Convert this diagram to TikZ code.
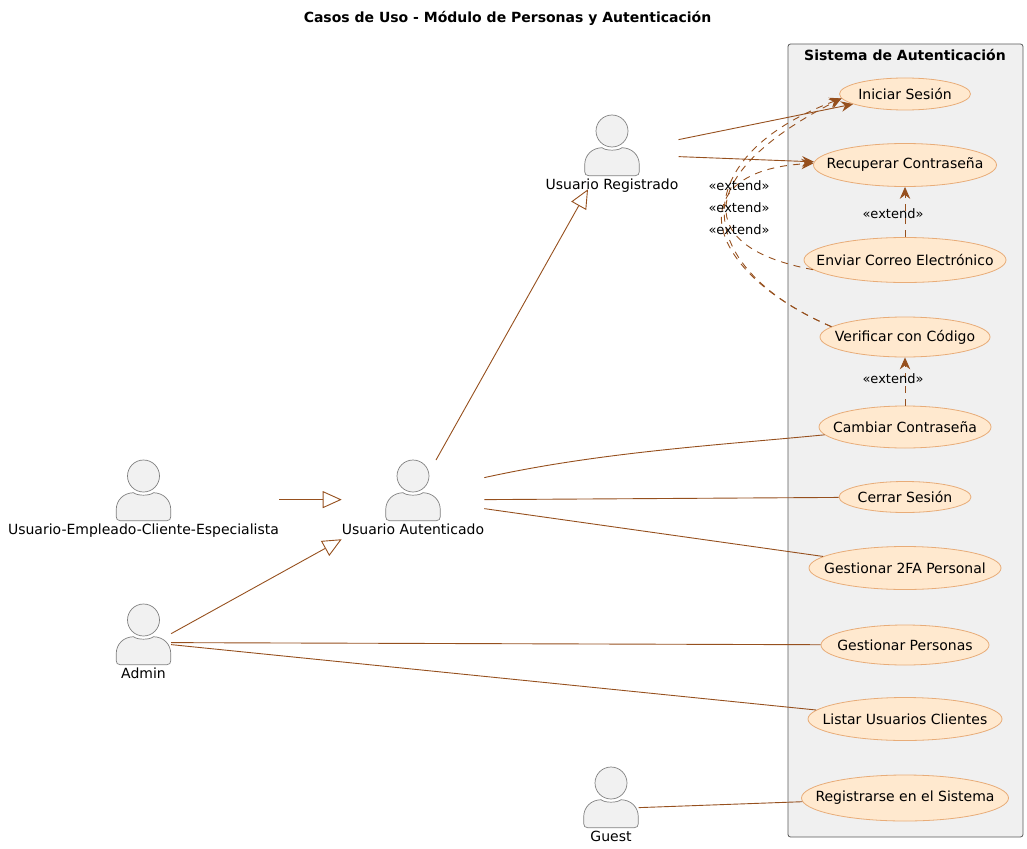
\documentclass[tikz,border=0pt]{standalone}
\usepackage{fontspec}
\setmainfont{DejaVu Sans}
\usetikzlibrary{arrows.meta,shapes.geometric}
\definecolor{linebrown}{HTML}{96501E}
\definecolor{ucfill}{HTML}{FFE9CF}
\definecolor{ucline}{HTML}{E8AC78}
\definecolor{pkgfill}{HTML}{F0F0F0}
\definecolor{actfill}{HTML}{F1F1F1}
\tikzset{
  assoc/.style={draw=linebrown, line width=0.9pt},
  assocarrow/.style={assoc, -{Stealth[length=12pt,width=10.5pt,inset=4pt]}},
  gen/.style={assoc, -{Triangle[open,fill=white,length=19pt,width=17pt]}},
  ext/.style={assoc, dash pattern=on 7pt off 6pt, -{Stealth[length=12pt,width=10.5pt,inset=4pt]}},
  usecase/.style={ellipse, draw=ucline, fill=ucfill, line width=0.8pt, inner sep=0pt},
  actorbox/.style={anchor=north, align=center, inner sep=0pt, minimum width=55pt},
  actorline/.style={draw=gray, fill=actfill, line width=0.7pt},
  extlabel/.style={font=\fontsize{13}{15}\selectfont}
}
\newcommand{\actor}[4]{
  \node[actorbox] (#1) at (#2,#3) {\rule{0pt}{57pt}\\#4\strut};
  \begin{scope}[shift={(#1.north)}]
    \draw[actorline] (0,16) circle (16pt);
    \draw[actorline] (-27.3,50) .. controls (-27.3,40) and (-20,33) .. (-10,32.7)
      .. controls (-6,36) and (6,36) .. (10,32.7)
      .. controls (20,33) and (27.3,40) .. (27.3,50) -- (27.3,56.7)
      .. controls (27.3,59) and (26,60.7) .. (23.3,60.7) -- (-23.3,60.7)
      .. controls (-26,60.7) and (-27.3,59) .. (-27.3,56.7) -- cycle;
  \end{scope}
}
\newcommand{\ucase}[5]{
  \node[usecase, minimum width=#3pt, minimum height=#4pt] (#1) at (905,#2) {\makebox[0pt]{#5}};
}
\begin{document}
\begin{tikzpicture}[x=1pt, y=-1pt, font=\fontsize{14}{16.8}\selectfont]
\useasboundingbox (0,0) rectangle (1027,848);

\node[font=\fontsize{14}{16.8}\selectfont\bfseries] (title) at (507.5,18) {Casos de Uso - Módulo de Personas y Autenticación};

% paquete
\draw[draw=black!65, fill=pkgfill, line width=0.8pt, rounded corners=2.5pt] (788,44) rectangle (1023,837);
\node[font=\fontsize{14}{16.8}\selectfont\bfseries] (pkg) at (905,55) {Sistema de Autenticación};

\actor{regi}{612}{115}{Usuario Registrado}
\actor{auth}{413}{460}{Usuario Autenticado}
\actor{emple}{143.5}{460}{Usuario-Empleado-Cliente-Especialista}
\actor{admin}{143.5}{604}{Admin}
\actor{guest}{611}{767}{Guest}

\ucase{login}{94}{131}{32}{Iniciar Sesión}
\ucase{recup}{165}{183}{43}{Recuperar Contraseña}
\ucase{correo}{260}{202}{45}{Enviar Correo Electrónico}
\ucase{verif}{337}{170}{40}{Verificar con Código}
\ucase{cambiar}{427}{172}{42}{Cambiar Contraseña}
\ucase{cerrar}{497}{132}{31}{Cerrar Sesión}
\ucase{tfa}{568}{192}{43}{Gestionar 2FA Personal}
\ucase{personas}{645}{168}{40}{Gestionar Personas}
\ucase{listar}{719}{194}{43}{Listar Usuarios Clientes}
\ucase{registro}{798}{207}{46}{Registrarse en el Sistema}

% generalizaciones
\draw[gen] (emple.east) -- (auth.west);
\draw[gen] ([yshift=10pt]admin.east) -- (auth.south west);
\draw[gen] ([xshift=23pt]auth.north) -- ([xshift=-24pt,yshift=5pt]regi.south);

% asociaciones
\draw[assocarrow] ([yshift=15pt]regi.east) -- (login.191);
\draw[assocarrow] ([yshift=-2pt]regi.east) -- (recup.178);
\draw[assoc] ([yshift=22pt]auth.east) .. controls (600,452) and (720,445) .. (cambiar);
\draw[assoc] (auth.east) -- (cerrar);
\draw[assoc] ([yshift=-9pt]auth.east) -- (tfa);
\draw[assoc] ([yshift=1pt]admin.east) -- (personas);
\draw[assoc] ([yshift=-1pt]admin.east) -- (listar);
\draw[assoc] ([yshift=-1pt]guest.east) -- (registro);

% extends
\draw[ext] (correo) -- (recup) node[pos=0.47, extlabel, xshift=-12pt] (lblcorreo) {«extend»};
\draw[ext] (cambiar) -- (verif) node[pos=0.55, extlabel, xshift=-12pt] (lblcambiar) {«extend»};
\draw[ext] (verif.172) .. controls (700,270) and (680,170) .. (recup.179);
\draw[ext] (verif.172) .. controls (685,263) and (691,155) .. (login.184);
\draw[ext] (correo.186) .. controls (680,245) and (709,165) .. (login.184);
\node[extlabel] (lbla) at (739,186) {«extend»};
\node[extlabel] (lblb) at (739,208) {«extend»};
\node[extlabel] (lblc) at (739,230) {«extend»};

\end{tikzpicture}
\end{document}
